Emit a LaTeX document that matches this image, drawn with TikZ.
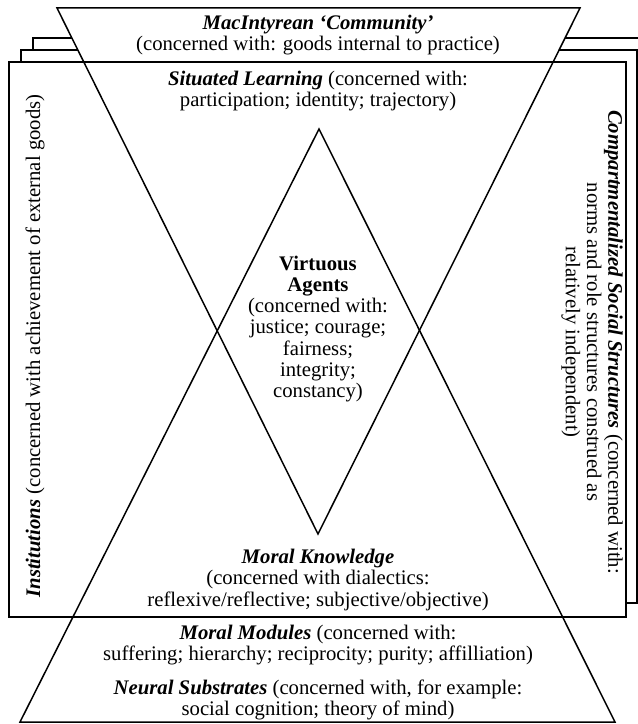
\documentclass[tikz,border=0pt]{standalone}
\usepackage{fontspec}
\setmainfont{Liberation Serif}
\usetikzlibrary{positioning}

\begin{document}
\begin{tikzpicture}[x=1bp, y=-1bp,
            page/.style = {draw, fill=white, line width=1.8bp},
            frame/.style = {draw, line width=2bp},
            tri/.style = {draw, line width=1.5bp, line join=miter},
            txt/.style = {align=center, inner sep=0pt, font=\fontsize{20.8}{21.3}\selectfont},
        ]
            \useasboundingbox (0,0) rectangle (638,724);

            % Corners of the two triangles
            \coordinate (TL) at (57,8);
            \coordinate (TR) at (580,8);
            \coordinate (TA) at (318,534);
            \coordinate (BL) at (20,722);
            \coordinate (BR) at (615,722);
            \coordinate (BA) at (319,129);

            % Pages stacked behind the front box
            \draw[page] (33,38) rectangle (660,590);
            \draw[page] (21,50) rectangle (637,603);
            \fill[white] (9,62) rectangle (626,617);

            % Top of the inverted triangle covers the pages
            \fill[white] (TL) -- (TR) -- (TA) -- cycle;

            % Front box and triangles
            \draw[frame] (9,62) rectangle (626,617);
            \draw[tri] (TL) -- (TR) -- (TA) -- cycle;
            \draw[tri] (BL) -- (BR) -- (BA) -- cycle;

            % Texts
            \node[txt] (community) at (318,35) {{\bfseries\itshape MacIntyrean ‘Community’}\\(concerned with: goods internal to practice)};
            \node[txt] (situated) at (318,91) {{\bfseries\itshape Situated Learning} (concerned with:\\participation; identity; trajectory)};
            \node[txt] (agents) at (318,329) {\textbf{Virtuous}\\\textbf{Agents}\\(concerned with:\\justice; courage;\\fairness;\\integrity;\\constancy)};
            \node[txt] (knowledge) at (318,580) {{\bfseries\itshape Moral Knowledge}\\(concerned with dialectics:\\reflexive/reflective; subjective/objective)};
            \node[txt] (modules) at (318,645) {{\bfseries\itshape Moral Modules} (concerned with:\\suffering; hierarchy; reciprocity; purity; affilliation)};
            \node[txt] (neural) at (318,700) {{\bfseries\itshape Neural Substrates} (concerned with, for example:\\social cognition; theory of mind)};
            \node[txt, rotate=90] (institutions) at (35,346) {{\bfseries\itshape Institutions} (concerned with achievement of external goods)};
            \node[txt, rotate=-90] (compartments) at (592,342) {{\bfseries\itshape Compartmentalized Social Structures} (concerned with:\\norms and role structures construed as\\relatively independent)};
        \end{tikzpicture}
\end{document}
